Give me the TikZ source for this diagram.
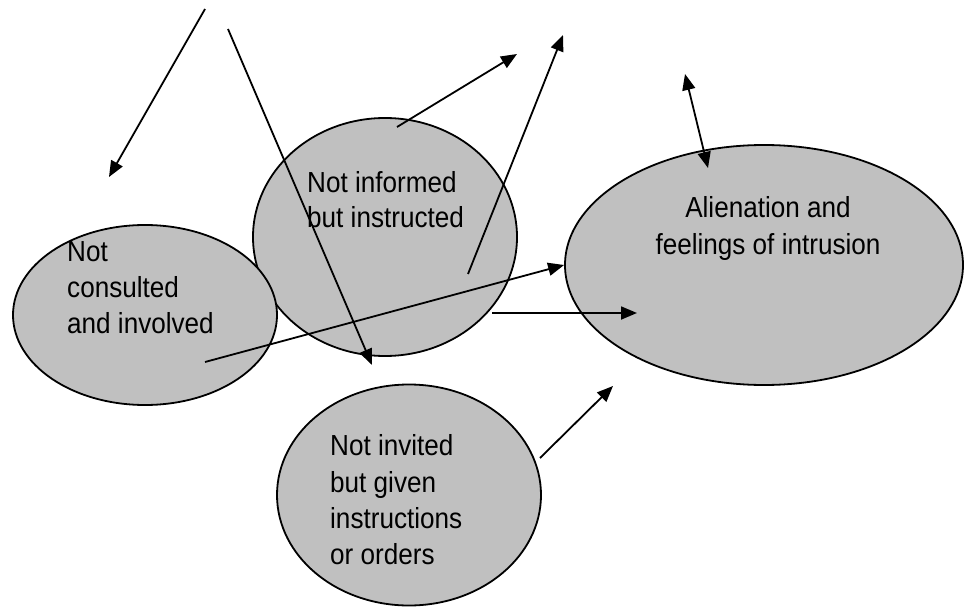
\documentclass[tikz,border=0pt]{standalone}
\usepackage{fontspec}
\setmainfont{Liberation Sans}[FakeStretch=0.9]
\usetikzlibrary{shapes.geometric,arrows.meta}
\definecolor{bubblegray}{RGB}{192,192,192}
\begin{document}
\begin{tikzpicture}[x=1pt,y=-1pt,
  bubble/.style={ellipse,draw=black,fill=bubblegray,line width=1.8pt,inner sep=0pt},
  label/.style={inner sep=0pt,font=\fontsize{29}{36}\selectfont},
  link/.style={line width=1.8pt,-{Triangle[length=16pt,width=13pt]}},
  twoway/.style={line width=1.8pt,{Triangle[length=16pt,width=13pt]}-{Triangle[length=16pt,width=13pt]}}]
\useasboundingbox (0,0) rectangle (964,607);

% the four bubbles (middle one first, the left one overlaps it)
\node[bubble,minimum width=264pt,minimum height=238pt] (informed) at (385,237) {};
\node[bubble,minimum width=264pt,minimum height=180pt] (consulted) at (145,315) {};
\node[bubble,minimum width=398pt,minimum height=240pt] (alienation) at (764,265) {};
\node[bubble,minimum width=264pt,minimum height=221pt] (invited) at (409,495) {};

% texts, placed by their baselines
\node[label,anchor=base west] (tconsulted) at (67,261) {Not};
\node[label,anchor=base west] (tconsulted2) at (67,297) {consulted};
\node[label,anchor=base west] (tconsulted3) at (67,333) {and involved};
\node[label,anchor=base west] (tinformed) at (307,192) {Not informed};
\node[label,anchor=base west] (tinformed2) at (307,227) {but instructed};
\node[label,anchor=base] (talien) at (768,217) {Alienation and};
\node[label,anchor=base] (talien2) at (768,254) {feelings of intrusion};
\node[label,anchor=base west] (tinvited) at (330,455) {Not invited};
\node[label,anchor=base west] (tinvited2) at (330,492) {but given};
\node[label,anchor=base west] (tinvited3) at (330,528) {instructions};
\node[label,anchor=base west] (tinvited4) at (330,564) {or orders};

% free ends of the connectors
\coordinate (s1) at (205,9);    \coordinate (e1) at (109,177);
\coordinate (s2) at (228,29);   \coordinate (e2) at (372,365);
\coordinate (s3) at (397,127);  \coordinate (e3) at (517,54);
\coordinate (s4) at (468,274);  \coordinate (e4) at (563,35);
\coordinate (s5) at (685,74);   \coordinate (e5) at (708,168);
\coordinate (s6) at (205,362);
\coordinate (s7) at (492,313);  \coordinate (e7) at (637,313);
\coordinate (s8) at (540,458);  \coordinate (e8) at (613,386);

% connectors
\draw[link] (s1) -- (e1);
\draw[link] (s2) -- (e2);
\draw[link] (s3) -- (e3);
\draw[link] (s4) -- (e4);
\draw[twoway] (s5) -- (e5);
\draw[link] (s6) -- (alienation.west);
\draw[link] (s7) -- (e7);
\draw[link] (s8) -- (e8);
\end{tikzpicture}
\end{document}
